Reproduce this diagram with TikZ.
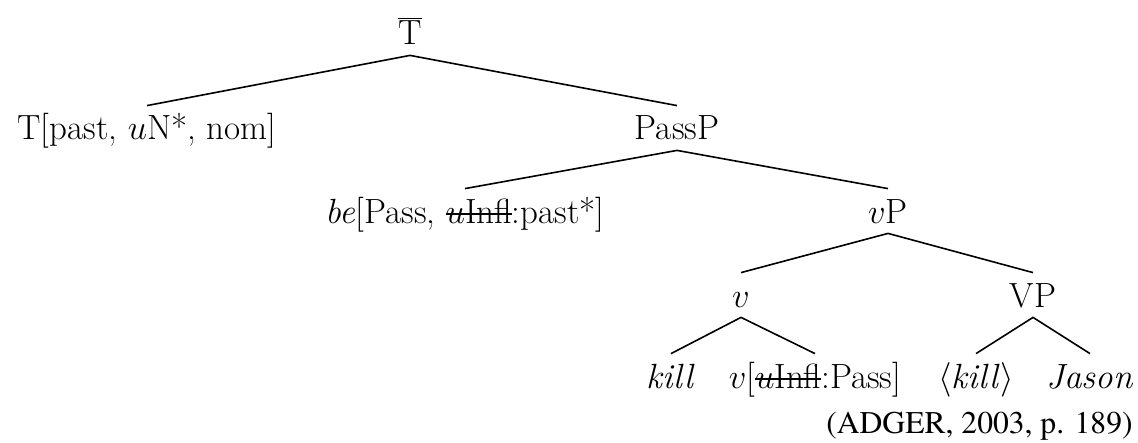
\documentclass[tikz,border=0pt]{standalone}
\usepackage{fontspec}
\newfontfamily\citefont{texgyretermes-regular.otf}
\newcommand\mystrike[1]{\setbox0\hbox{#1}\rlap{\rule[0.24em]{\wd0}{0.055em}}\box0}
\tikzset{
  cat/.style={inner xsep=0pt, inner ysep=0pt, text height=17pt, text depth=5pt, anchor=base, font=\fontsize{17.5}{21}\selectfont},
  branch/.style={line width=0.8pt},
  cite/.style={anchor=base east, inner sep=0pt, font=\citefont\fontsize{15.8}{19}\selectfont}
}
\begin{document}
\begin{tikzpicture}[x=0.5pt,y=-0.5pt]
\useasboundingbox (0,0) rectangle (1138,443);
% row 1
\node[cat] (tbar) at (410,45) {$\overline{\mbox{T}}$};
% row 2
\node[cat] (t) at (147,140) {T[past, $u$N*, nom]};
\node[cat] (passp) at (677,140) {PassP};
% row 3
\node[cat] (be) at (465,223) {\textit{be}[Pass, \mystrike{$u$Infl}:past*]};
\node[cat] (vp) at (888,223) {$v$P};
% row 4
\node[cat] (v) at (741,307) {$v$};
\node[cat] (VP) at (1033,307) {VP};
% row 5
\node[cat] (kill) at (671,388) {\textit{kill}};
\node[cat] (vhead) at (815,388) {$v$[\mystrike{$u$Infl}:Pass]};
\node[cat] (killcopy) at (976,388) {$\langle$\textit{kill}$\rangle$};
\node[cat] (jason) at (1090,388) {\textit{Jason}};
% citation
\node[cite] (cit) at (1133,433) {(ADGER, 2003, p. 189)};
% branches
\draw[branch] (t.north) -- (tbar.south) -- (passp.north);
\draw[branch] (be.north) -- (passp.south) -- (vp.north);
\draw[branch] (v.north) -- (vp.south) -- (VP.north);
\draw[branch] (kill.north) -- (v.south) -- (vhead.north);
\draw[branch] (killcopy.north) -- (VP.south) -- (jason.north);
\end{tikzpicture}
\end{document}
